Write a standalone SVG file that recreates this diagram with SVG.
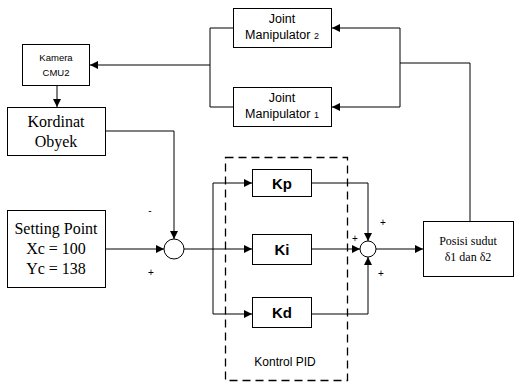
<svg xmlns="http://www.w3.org/2000/svg" width="515" height="383" viewBox="0 0 515 383">
<defs>
<marker id="ah" viewBox="0 0 10 10" refX="10" refY="5" markerWidth="8" markerHeight="8" markerUnits="userSpaceOnUse" orient="auto"><path d="M0,0 L10,5 L0,10 Z" fill="#000"/></marker>
<style>
.b{fill:#fff;stroke:#000;stroke-width:1}
.l{fill:none;stroke:#000;stroke-width:1}
.a{fill:none;stroke:#000;stroke-width:1;marker-end:url(#ah)}
.s{font-family:"Liberation Sans",Arial,sans-serif;fill:#000;text-anchor:middle}
.r{font-family:"Liberation Serif","Times New Roman",serif;fill:#000;text-anchor:middle}
.k{font-family:"Liberation Sans",Arial,sans-serif;font-weight:bold;font-size:15px;text-anchor:middle}
.p{font-family:"Liberation Sans",Arial,sans-serif;font-size:9.5px;text-anchor:middle}
</style>
</defs>
<g id="connectors">
<path class="a" d="M210,65 L90,65"/>
<path class="l" d="M233,28 L210,28 L210,107 L233,107"/>
<path class="a" d="M400,28 L332,28"/>
<path class="a" d="M400,107 L332,107"/>
<path class="l" d="M400,28 L400,107"/>
<path class="l" d="M400,63 L470,63 L470,221"/>
<path class="a" d="M57,86 L57,107"/>
<path class="a" d="M106,131 L174,131 L174,239"/>
<path class="a" d="M106,249 L164,249"/>
<path class="a" d="M184,249 L252,249"/>
<path class="a" d="M213,249 L213,183 L252,183"/>
<path class="a" d="M213,249 L213,314 L252,314"/>
<path class="a" d="M312,183 L368,183 L368,241"/>
<path class="a" d="M312,249 L360,249"/>
<path class="a" d="M312,314 L368,314 L368,257"/>
<path class="a" d="M376,249 L423,249"/>
</g>
<g id="pid-frame"><rect x="225.5" y="157.5" width="122" height="223" fill="none" stroke="#000" stroke-width="1.3" stroke-dasharray="8,5"/><text class="s" x="285" y="366" font-size="12">Kontrol PID</text></g>
<g id="joint2"><rect class="b" x="233.5" y="8.5" width="98" height="39"/><text class="s" x="282" y="23" font-size="12.5">Joint</text><text class="s" x="282" y="39" font-size="12.5">Manipulator <tspan font-size="9">2</tspan></text></g>
<g id="joint1"><rect class="b" x="233.5" y="87.5" width="98" height="39"/><text class="s" x="282" y="102" font-size="12.5">Joint</text><text class="s" x="282" y="118" font-size="12.5">Manipulator <tspan font-size="9">1</tspan></text></g>
<g id="kamera"><rect class="b" x="22.5" y="44.5" width="67" height="41"/><text class="p" x="56" y="61">Kamera</text><text class="p" x="56" y="76">CMU2</text></g>
<g id="kordinat"><rect class="b" x="7.5" y="107.5" width="98" height="48"/><text class="r" x="56" y="127" font-size="16">Kordinat</text><text class="r" x="56" y="147" font-size="16">Obyek</text></g>
<g id="setting"><rect class="b" x="7.5" y="210.5" width="98" height="77"/><text class="r" x="56" y="234" font-size="16">Setting Point</text><text class="r" x="56" y="254" font-size="16">Xc = 100</text><text class="r" x="56" y="274" font-size="16">Yc = 138</text></g>
<g id="sum1"><circle class="b" cx="174" cy="249" r="10"/><text class="s" x="150" y="214" font-size="10">-</text><text class="s" x="151" y="276" font-size="10">+</text></g>
<g id="kp"><rect class="b" x="252.5" y="169.5" width="59" height="27"/><text class="k" x="282" y="189">Kp</text></g>
<g id="ki"><rect class="b" x="252.5" y="234.5" width="59" height="30"/><text class="k" x="282" y="255">Ki</text></g>
<g id="kd"><rect class="b" x="252.5" y="297.5" width="59" height="30"/><text class="k" x="282" y="318">Kd</text></g>
<g id="sum2"><circle class="b" cx="368" cy="249" r="8"/><text class="s" x="383" y="226" font-size="10">+</text><text class="s" x="355" y="242" font-size="10">+</text><text class="s" x="381" y="277" font-size="10">+</text></g>
<g id="posisi"><rect class="b" x="423.5" y="221.5" width="90" height="55"/><text class="r" x="468" y="245" font-size="12">Posisi sudut</text><text class="r" x="468" y="261" font-size="12">δ1 dan δ2</text></g>
</svg>
